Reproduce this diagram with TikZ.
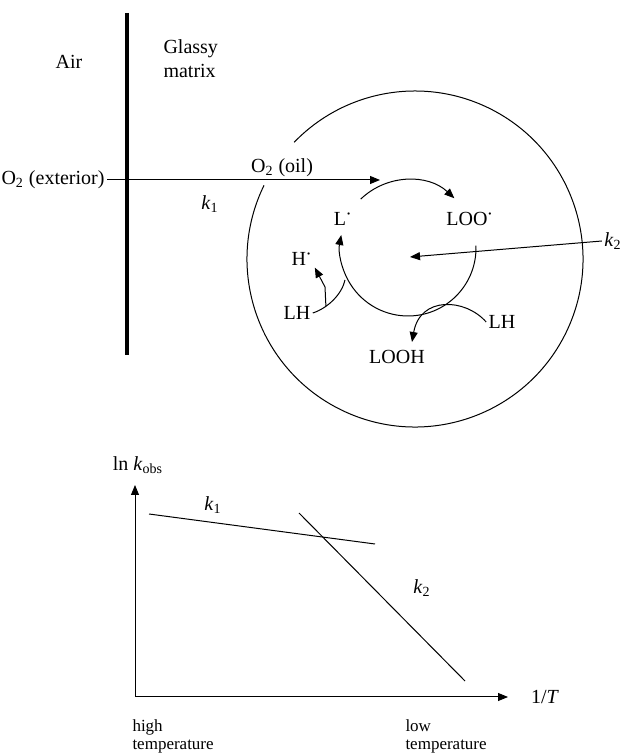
\documentclass[tikz,border=0pt]{standalone}
\usepackage{fontspec}
\setmainfont{Liberation Serif}
\usepackage{amsmath,bm}
\usetikzlibrary{arrows.meta}
\newcommand{\rad}{$^{\bm{\cdot}}$}
\newcommand{\kk}[1]{\textit{k}\textsubscript{#1}}
\tikzset{
  arr/.style={-{Triangle[length=5pt,width=4pt]}},
  small/.style={font=\fontsize{8.5}{9}\selectfont}
}

\begin{document}
\begin{tikzpicture}[x=0.5pt,y=0.5pt,font=\fontsize{10}{12}\selectfont,line width=0.5pt,inner sep=1pt]
  \useasboundingbox (0,0) rectangle (632,754);
  % interface air / glassy matrix
  \draw[line width=2pt] (127,741) -- (127,399);
  \node (air) at (69,692) {Air};
  \node[anchor=west,align=left] (glassy) at (161,695) {Glassy\\matrix};
  \node[anchor=east] (ext) at (107,574) {O\textsubscript{2} (exterior)};
  \coordinate (o2tip) at (380,574);
  \draw[arr] (ext.east) -- (o2tip);
  \node (oil) at (282,586) {O\textsubscript{2} (oil)};
  \node (ka) at (210,550) {\kk{1}};
  % oil droplet
  \draw (415,495) ++(154:168) arc[start angle=154, end angle=496, radius=168];
  \coordinate (cyc) at (408,506);
  \draw[arr] (cyc) ++(134:68) arc[start angle=134, end angle=47, radius=68];
  \draw[arr] (cyc) ++(2:68) arc[start angle=2, end angle=-191, radius=68];
  \node (L) at (343,536) {L\rad};
  \node (LOO) at (470,536) {LOO\rad};
  \node (H) at (302,496) {H\rad};
  \node (LHa) at (297,441) {LH};
  \node (LHb) at (502,432) {LH};
  \node (LOOH) at (397,397) {LOOH};
  \node (kb) at (613,513) {\kk{2}};
  \coordinate (kbtip) at (410,497);
  \draw[arr] (kb.west) -- (kbtip);
  \draw (LHa.east) .. controls (328,446) and (342,460) .. (345,474) coordinate[pos=0.3] (hs);
  \draw[arr] (hs) -- (325,467) -- (H.south east);
  \coordinate (loohtip) at (412,412);
  \draw[arr] (LHb.west) .. controls (465,456) and (420,458) .. (loohtip);
  % Arrhenius plot
  \coordinate (orig) at (135,57);
  \coordinate (ytip) at (135,269);
  \coordinate (xtip) at (508,57);
  \draw[arr] (orig) -- (ytip);
  \draw[arr] (orig) -- (xtip);
  \node (lnk) at (138,289) {ln \kk{obs}};
  \node (invT) at (545,57) {1/\textit{T}};
  \draw (149,240) -- (375,210);
  \draw (299,241) -- (465,73);
  \node (kc) at (213,249) {\kk{1}};
  \node (kd) at (422,166) {\kk{2}};
  \node[small,anchor=west,align=left] (hot) at (130,18) {high\\temperature};
  \node[small,anchor=west,align=left] (cold) at (403,18) {low\\temperature};
\end{tikzpicture}
\end{document}
